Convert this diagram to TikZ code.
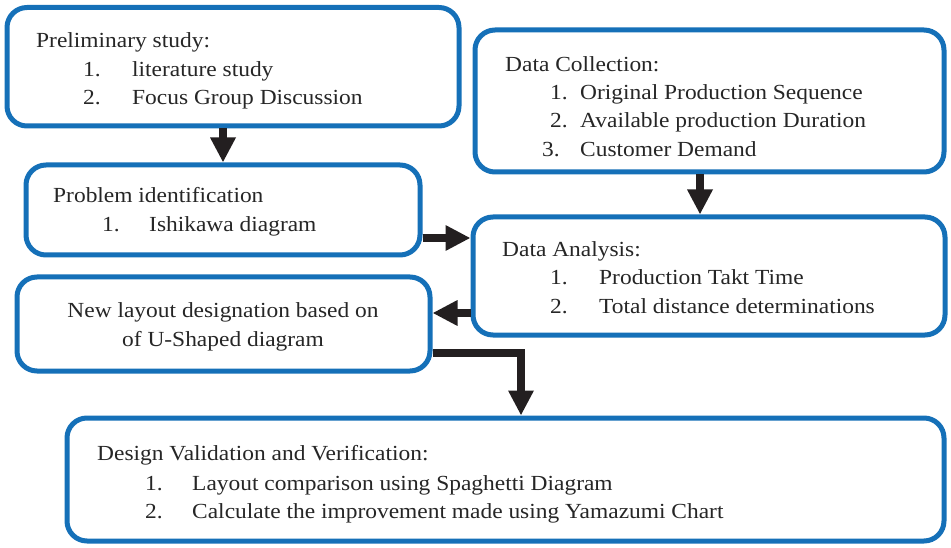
\documentclass[tikz,border=0pt]{standalone}
\usepackage{fontspec}
\setmainfont{Liberation Serif}[FakeStretch=1.09]
\usetikzlibrary{arrows.meta}
\definecolor{boxblue}{RGB}{21,112,184}
\definecolor{arrdark}{RGB}{35,31,32}
\begin{document}
\begin{tikzpicture}[x=1pt,y=-1pt,
  box/.style={draw=boxblue,line width=5pt,rounded corners=20pt,fill=white,inner sep=0pt},
  txt/.style={anchor=base west,inner sep=0pt,font=\fontsize{21.5}{28}\selectfont,text=black!85},
  arr/.style={draw=arrdark,line width=8pt,-{Triangle[length=25pt,width=24pt]},line join=miter}]
\useasboundingbox (0,0) rectangle (951,548);
\node[box,minimum width=452pt,minimum height=118.5pt] (b1) at (233,66.75) {};
\node[box,minimum width=469pt,minimum height=142pt] (b2) at (709.5,101) {};
\node[box,minimum width=394pt,minimum height=90pt] (b3) at (223,210) {};
\node[box,minimum width=472pt,minimum height=118pt] (b4) at (709,276) {};
\node[box,minimum width=413pt,minimum height=94pt] (b5) at (223.5,324) {};
\node[box,minimum width=877pt,minimum height=123pt] (b6) at (505.5,479.5) {};
% box 1
\node[txt] (t1) at (36,48) {Preliminary study:};
\node[txt] (t1a) at (83,77) {1.};
\node[txt] (t1b) at (132,77) {literature study};
\node[txt] (t1c) at (83,105) {2.};
\node[txt] (t1d) at (132,105) {Focus Group Discussion};
% box 2
\node[txt] (t2) at (505,72) {Data Collection:};
\node[txt] (t2a) at (550,100) {1.};
\node[txt] (t2b) at (580,100) {Original Production Sequence};
\node[txt] (t2c) at (550,128) {2.};
\node[txt] (t2d) at (580,128) {Available production Duration};
\node[txt] (t2e) at (542,157) {3.};
\node[txt] (t2f) at (580,157) {Customer Demand};
% box 3
\node[txt] (t3) at (53,203) {Problem identification};
\node[txt] (t3a) at (102,232) {1.};
\node[txt] (t3b) at (149,232) {Ishikawa diagram};
% box 4
\node[txt] (t4) at (502,257) {Data Analysis:};
\node[txt] (t4a) at (550,285) {1.};
\node[txt] (t4b) at (599,285) {Production Takt Time};
\node[txt] (t4c) at (550,313) {2.};
\node[txt] (t4d) at (599,313) {Total distance determinations};
% box 5
\node[txt,anchor=base] (t5a) at (223,317) {New layout designation based on};
\node[txt,anchor=base] (t5b) at (223,346) {of U-Shaped diagram};
% box 6
\node[txt] (t6) at (97,460) {Design Validation and Verification:};
\node[txt] (t6a) at (145,490) {1.};
\node[txt] (t6b) at (192,490) {Layout comparison using Spaghetti Diagram};
\node[txt] (t6c) at (145,518) {2.};
\node[txt] (t6d) at (192,518) {Calculate the improvement made using Yamazumi Chart};
% arrows
\draw[arr] (b3.north |- b1.south) -- (b3.north);
\draw[arr] (b2.south -| {700,0}) -- (b4.north -| {700,0});
\draw[arr] (b3.east |- {0,238}) -- (b4.west |- {0,238});
\draw[arr] (b4.west |- {0,313}) -- (b5.east |- {0,313});
\draw[arr] (b5.east |- {0,353}) -| (b6.north -| {521,0});
\end{tikzpicture}
\end{document}
